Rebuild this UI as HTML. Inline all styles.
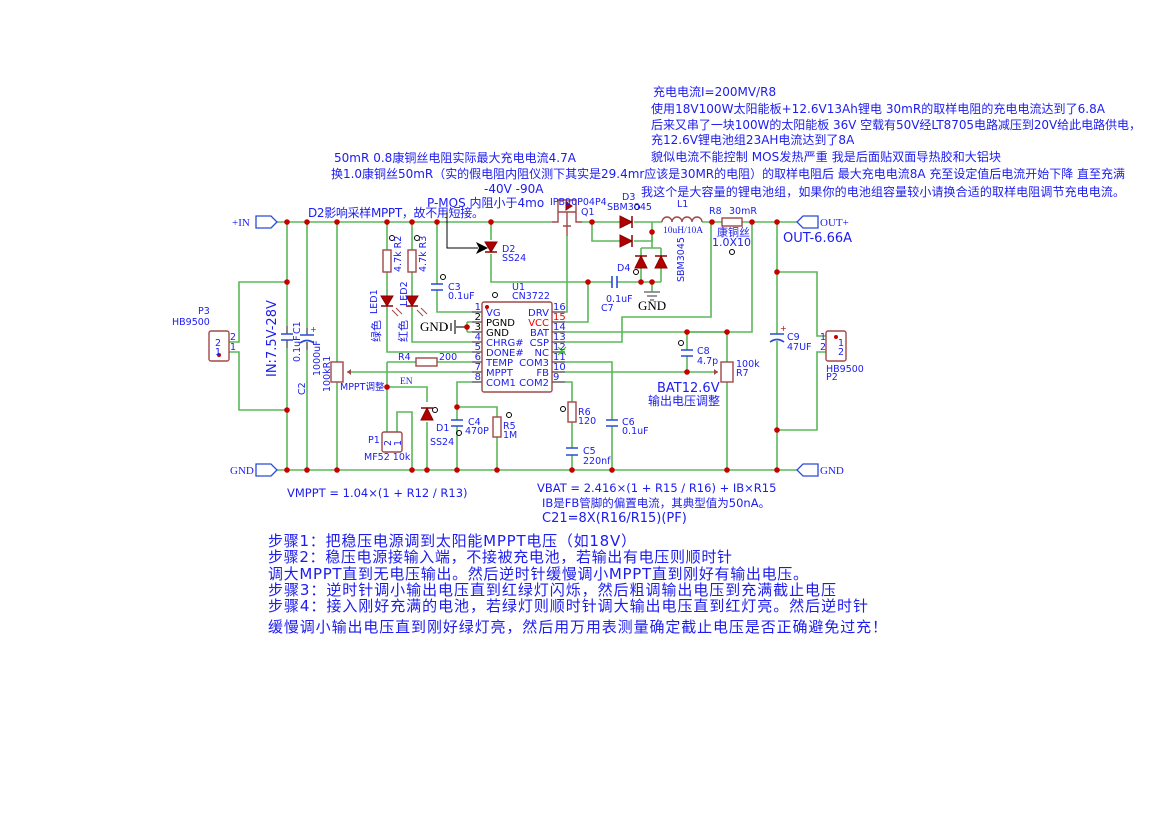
<!DOCTYPE html>
<html><head><meta charset="utf-8"><style>
html,body{margin:0;padding:0;background:#fff;}
svg{display:block;}
text{font-family:"DejaVu Sans","Liberation Sans","Noto Sans CJK SC",sans-serif;}
.t{fill:#1c1cf0;}
.s{fill:#1c1cf0;font-size:9.5px;}
.w{stroke:#5cb85c;stroke-width:1.6;fill:none;}
.c{stroke:#a04848;stroke-width:1.4;fill:none;}
.g{stroke:#888;stroke-width:3;fill:none;}
.cap{stroke:#2a4ad8;stroke-width:1.6;fill:none;}
.d{fill:#c80000;}
.dio{fill:#b00000;stroke:#8a0000;stroke-width:1;}
.p{stroke:#2a4ad8;stroke-width:1.3;fill:#fff;}
</style></head><body>
<svg width="1169" height="827" viewBox="0 0 1169 827" xmlns="http://www.w3.org/2000/svg">
<rect width="1169" height="827" fill="#fff"/>

<!-- texts top -->
<g class="t" font-size="12">
<text x="653" y="96">充电电流I=200MV/R8</text>
<text x="651" y="113" textLength="454">使用18V100W太阳能板+12.6V13Ah锂电 30mR的取样电阻的充电电流达到了6.8A</text>
<text x="651" y="129" textLength="490">后来又串了一块100W的太阳能板 36V 空载有50V经LT8705电路减压到20V给此电路供电，</text>
<text x="651" y="144">充12.6V锂电池组23AH电流达到了8A</text>
<text x="651" y="161" textLength="350">貌似电流不能控制 MOS发热严重 我是后面贴双面导热胶和大铝块</text>
<text x="334" y="162" textLength="242">50mR 0.8康铜丝电阻实际最大充电电流4.7A</text>
<text x="331" y="178" textLength="794">换1.0康铜丝50mR（实的假电阻内阻仪测下其实是29.4mr应该是30MR的电阻）的取样电阻后 最大充电电流8A 充至设定值后电流开始下降 直至充满</text>
<text x="484" y="193">-40V -90A</text>
<text x="641" y="196" textLength="484">我这个是大容量的锂电池组，如果你的电池组容量较小请换合适的取样电阻调节充电电流。</text>
<text x="427" y="207">P-MOS 内阻小于4mo</text>
<text x="308" y="217" textLength="176">D2影响采样MPPT，故不用短接。</text>
<text x="783" y="242" font-size="13">OUT-6.66A</text>
<text x="657" y="392" font-size="13">BAT12.6V</text>
<text x="648" y="405">输出电压调整</text>
<text transform="translate(276,377) rotate(-90)" font-size="13">IN:7.5V-28V</text>
<text x="287" y="497" font-size="11.5">VMPPT = 1.04×(1 + R12 / R13)</text>
<text x="537" y="492" font-size="11.5">VBAT = 2.416×(1 + R15 / R16) + IB×R15</text>
<text x="542" y="507" font-size="11.5">IB是FB管脚的偏置电流，其典型值为50nA。</text>
<text x="542" y="522" font-size="13">C21=8X(R16/R15)(PF)</text>
</g>
<g class="t" font-size="15">
<text x="268" y="546" textLength="368">步骤1：把稳压电源调到太阳能MPPT电压（如18V）</text>
<text x="268" y="562" textLength="464">步骤2：稳压电源接输入端，不接被充电池，若输出有电压则顺时针</text>
<text x="268" y="579" textLength="540">调大MPPT直到无电压输出。然后逆时针缓慢调小MPPT直到刚好有输出电压。</text>
<text x="268" y="595" textLength="568">步骤3：逆时针调小输出电压直到红绿灯闪烁，然后粗调输出电压到充满截止电压</text>
<text x="268" y="611" textLength="600">步骤4：接入刚好充满的电池，若绿灯则顺时针调大输出电压直到红灯亮。然后逆时针</text>
<text x="268" y="632" textLength="619">缓慢调小输出电压直到刚好绿灯亮，然后用万用表测量确定截止电压是否正确避免过充！</text>
</g>

<!-- wires -->
<g class="w">
<!-- rails -->
<path d="M277 222H552M582 222H592M652 222H662M702 222H722M742 222H797"/>
<path d="M277 470H797"/>
<!-- P3 -->
<path d="M229 342H239V282H287M229 352H239V410H287"/>
<path d="M287 222V334M287 340V470"/>
<path d="M307 222V335M307 342V470"/>
<path d="M337 222V362M337 382V470M347 372H480"/>
<!-- R2 LED1 -->
<path d="M387 222V250M387 272V296M387 307V352H480"/>
<path d="M412 222V250M412 272V296M412 307V342H480"/>
<path d="M437 222V284M437 290V312H480"/>
<path d="M467 322H480M467 332H480M467 322V332"/>
<!-- R4 -->
<path d="M387 362H416M437 362H480M387 362V432M387 387H427V402M427 422V470"/>
<path d="M397 432V412H412V470"/>
<path d="M480 382H457V420M457 426V470M457 407H497V417M497 437V470"/>
<!-- D2 -->
<path d="M491 222V240M491 254V282H612M617 282H661"/>
<!-- right pins -->
<path d="M552 312H567V236"/>
<path d="M552 322H588V282"/>
<path d="M552 332H752V222"/>
<path d="M552 342H622V317H711V222"/>
<path d="M552 362H612V420M612 426V470"/>
<path d="M552 372H718"/>
<path d="M552 382H572V402M572 422V448M572 455V470"/>
<path d="M687 332H727V362M727 382V470M687 332V350M687 356V372"/>
<!-- D3 / D4 -->
<path d="M592 222H620M634 222H652M592 222V241H620M634 241H652V222"/>
<path d="M652 232V248M641 248H661M641 248V256M661 248V256M641 268V282M661 268V282"/>
<path d="M652 282V292"/>
<!-- right side -->
<path d="M777 222V334M777 341V470"/>
<path d="M777 272H817V336H826M826 352H817V430H777"/>
</g>

<!-- grey stubs -->
<g stroke="#888" stroke-width="2">
<path d="M472 312H482M472 322H482M472 332H482M472 342H482M472 352H482M472 362H482M472 372H482M472 382H482"/>
<path d="M552 312H565M552 322H565M552 332H565M552 342H565M552 352H565M552 362H565M552 372H565M552 382H565"/>
<path d="M287 326V334M287 340V348M307 328V335M307 342V350"/>
</g>

<!-- ports -->
<g class="p">
<path d="M256 216H271L277 222L271 228H256Z"/>
<path d="M256 464H271L277 470L271 476H256Z"/>
<path d="M818 216H803L797 222L803 228H818Z"/>
<path d="M818 464H803L797 470L803 476H818Z"/>
</g>
<g fill="#1c1cf0" font-family="Liberation Serif,serif" font-size="11">
<text x="232" y="226" style="font-family:'Liberation Serif',serif">+IN</text>
<text x="230" y="474" style="font-family:'Liberation Serif',serif">GND</text>
<text x="820" y="226" style="font-family:'Liberation Serif',serif">OUT+</text>
<text x="820" y="474" style="font-family:'Liberation Serif',serif">GND</text>
</g>

<!-- connectors -->
<g class="c">
<rect x="209" y="331" width="20" height="30" rx="2"/>
<rect x="826" y="331" width="20" height="30" rx="2"/>
<rect x="382" y="432" width="20" height="20" rx="2"/>
<!-- resistors -->
<rect x="383" y="250" width="8" height="22"/>
<rect x="408" y="250" width="8" height="22"/>
<rect x="416" y="358" width="21" height="8"/>
<rect x="331" y="362" width="12" height="20"/>
<rect x="493" y="417" width="8" height="20"/>
<rect x="568" y="402" width="8" height="20"/>
<rect x="722" y="218" width="20" height="8"/>
<rect x="721" y="362" width="12" height="20"/>
<!-- IC -->
<rect x="482" y="302" width="70" height="90" rx="2"/>
<!-- inductor -->
<path d="M662 222a5 5 0 0 1 10 0a5 5 0 0 1 10 0a5 5 0 0 1 10 0a5 5 0 0 1 10 0"/>
<!-- Q1 -->
<path d="M552 222H558V212H576V222H582M558 212V200H576V212M567 212V236M563 226H571"/>
</g>
<path d="M347 372l4-3v6z" fill="#a04848"/>
<path d="M718 372l-4-3v6z" fill="#a04848"/>

<!-- caps -->
<g class="cap">
<path d="M281 334H293M281 340H293"/>
<path d="M300 335H314M300 343Q307 338 314 343"/>
<path d="M431 284H443M431 290H443"/>
<path d="M451 420H463M451 426H463"/>
<path d="M566 448H578M566 455H578"/>
<path d="M606 420H618M606 426H618"/>
<path d="M612 276V288M617 276V288"/>
<path d="M681 350H693M681 356H693"/>
<path d="M770 334H784M770 342Q777 337 784 342"/>
</g>
<g fill="#c00" font-size="8"><text x="310" y="332">+</text><text x="780" y="331">+</text></g>

<!-- diodes -->
<g class="dio">
<path d="M381 296H393L387 306Z"/><path d="M406 296H418L412 306Z"/>
<path d="M485 242H497L491 252Z"/>
<path d="M421 420H433L427 408Z"/>
<path d="M620 216V228L632 222Z"/><path d="M620 235V247L632 241Z"/>
<path d="M635 268H647L641 256Z"/><path d="M655 268H667L661 256Z"/>
<path d="M572 206l-6-4v8z"/>
</g>
<g stroke="#8a0000" stroke-width="1.5">
<path d="M381 306H393M406 306H418M485 252H497M421 408H433M632 216V228M632 235V247M635 256H647M655 256H667"/>
</g>
<!-- LED arrows -->
<g stroke="#a04848" stroke-width="1"><path d="M392 310l6 6M396 308l6 6M417 310l6 6M421 308l6 6"/></g>

<!-- GND symbols -->
<path d="M467 327H455M455 320V334M451 323V331M447 325V329" stroke="#777" stroke-width="2" fill="none"/>
<path d="M644 292H660M647 296H657M650 300H654" stroke="#777" stroke-width="1.5"/>
<text x="420" y="331" font-size="13" style="font-family:'Liberation Serif',serif" fill="#000">GND</text>
<text x="638" y="310" font-size="13" style="font-family:'Liberation Serif',serif" fill="#000">GND</text>

<!-- black arrow -->
<path d="M447 212V248H478" stroke="#000" stroke-width="1" fill="none"/>
<path d="M488 248l-12-6 3 6-3 6z" fill="#000"/>

<!-- junctions -->
<g class="d">
<circle cx="287" cy="222" r="2.8"/><circle cx="307" cy="222" r="2.8"/><circle cx="337" cy="222" r="2.8"/><circle cx="387" cy="222" r="2.8"/><circle cx="412" cy="222" r="2.8"/><circle cx="437" cy="222" r="2.8"/><circle cx="491" cy="222" r="2.8"/><circle cx="592" cy="222" r="2.8"/><circle cx="712" cy="222" r="2.8"/><circle cx="752" cy="222" r="2.8"/><circle cx="777" cy="222" r="2.8"/>
<circle cx="287" cy="470" r="2.8"/><circle cx="307" cy="470" r="2.8"/><circle cx="337" cy="470" r="2.8"/><circle cx="412" cy="470" r="2.8"/><circle cx="427" cy="470" r="2.8"/><circle cx="457" cy="470" r="2.8"/><circle cx="497" cy="470" r="2.8"/><circle cx="572" cy="470" r="2.8"/><circle cx="612" cy="470" r="2.8"/><circle cx="727" cy="470" r="2.8"/><circle cx="777" cy="470" r="2.8"/>
<circle cx="287" cy="282" r="2.8"/><circle cx="287" cy="410" r="2.8"/><circle cx="467" cy="327" r="2.8"/><circle cx="387" cy="387" r="2.8"/><circle cx="457" cy="407" r="2.8"/>
<circle cx="588" cy="282" r="2.8"/><circle cx="641" cy="282" r="2.8"/><circle cx="652" cy="282" r="2.8"/><circle cx="652" cy="232" r="2.8"/>
<circle cx="687" cy="332" r="2.8"/><circle cx="727" cy="332" r="2.8"/><circle cx="687" cy="372" r="2.8"/>
<circle cx="777" cy="272" r="2.8"/><circle cx="777" cy="430" r="2.8"/>
<circle cx="219" cy="355" r="2"/><circle cx="836" cy="337" r="2"/><circle cx="487" cy="307" r="2"/>
</g>
<path d="M558 347l8 8M566 347l-8 8" stroke="#2c2" stroke-width="1"/>

<!-- small circles -->
<g fill="none" stroke="#000" stroke-width="1">
<circle cx="392" cy="238" r="2.5"/><circle cx="417" cy="238" r="2.5"/><circle cx="443" cy="277" r="2.5"/><circle cx="495" cy="295" r="2.5"/><circle cx="435" cy="410" r="2.5"/><circle cx="459" cy="433" r="2.5"/><circle cx="509" cy="415" r="2.5"/><circle cx="563" cy="409" r="2.5"/><circle cx="637" cy="207" r="2.5"/><circle cx="732" cy="252" r="2.5"/><circle cx="636" cy="272" r="2.5"/><circle cx="681" cy="343" r="2.5"/>
</g>

<!-- IC pin labels -->
<g font-size="10" fill="#1c1cf0">
<text x="486" y="316">VG</text><text x="486" y="326" fill="#000">PGND</text><text x="486" y="336" fill="#000">GND</text><text x="486" y="346">CHRG#</text><text x="486" y="356">DONE#</text><text x="486" y="366">TEMP</text><text x="486" y="376">MPPT</text><text x="486" y="386">COM1</text>
<g text-anchor="end"><text x="549" y="316">DRV</text><text x="549" y="326" fill="#e00">VCC</text><text x="549" y="336">BAT</text><text x="549" y="346">CSP</text><text x="549" y="356">NC</text><text x="549" y="366">COM3</text><text x="549" y="376">FB</text><text x="549" y="386">COM2</text></g>
<g text-anchor="end"><text x="481" y="310">1</text><text x="481" y="320" fill="#000">2</text><text x="481" y="330" fill="#000">3</text><text x="481" y="340">4</text><text x="481" y="350">5</text><text x="481" y="360">6</text><text x="481" y="370">7</text><text x="481" y="380">8</text></g>
<text x="553" y="310">16</text><text x="553" y="320" fill="#e00">15</text><text x="553" y="330">14</text><text x="553" y="340">13</text><text x="553" y="350">12</text><text x="553" y="360">11</text><text x="553" y="370">10</text><text x="553" y="380">9</text>
</g>

<!-- component labels -->
<g class="s">
<text x="512" y="290">U1</text><text x="512" y="299">CN3722</text>
<text x="198" y="314">P3</text><text x="172" y="325">HB9500</text>
<text x="215" y="346">2</text><text x="215" y="355">1</text><text x="230" y="340">2</text><text x="230" y="350">1</text>
<text x="838" y="346">1</text><text x="838" y="355">2</text><text x="820" y="340">1</text><text x="820" y="350">2</text>
<text x="826" y="372">HB9500</text><text x="826" y="380">P2</text>
<text transform="translate(300,334) rotate(-90)">C1</text>
<text transform="translate(300,362) rotate(-90)">0.1uF</text>
<text transform="translate(305,395) rotate(-90)">C2</text>
<text transform="translate(320,376) rotate(-90)">1000uF</text>
<text transform="translate(330,392) rotate(-90)">100kR1</text>
<text x="340" y="390">MPPT调整</text>
<text x="400" y="384" style="font-family:'Liberation Serif',serif">EN</text>
<text transform="translate(401,272) rotate(-90)">4.7k R2</text>
<text transform="translate(426,272) rotate(-90)">4.7k R3</text>
<text transform="translate(377,314) rotate(-90)">LED1</text>
<text transform="translate(407,306) rotate(-90)">LED2</text>
<text transform="translate(380,342) rotate(-90)" font-size="11">绿色</text>
<text transform="translate(407,342) rotate(-90)" font-size="11">红色</text>
<text x="448" y="290">C3</text><text x="448" y="299">0.1uF</text>
<text x="398" y="360">R4</text><text x="439" y="360">200</text>
<text x="502" y="252">D2</text><text x="502" y="261">SS24</text>
<text x="436" y="431">D1</text><text x="430" y="445">SS24</text>
<text x="368" y="443">P1</text><text x="364" y="460">MF52 10k</text>
<text transform="translate(391,446) rotate(-90)">2</text><text transform="translate(401,446) rotate(-90)">1</text>
<text x="468" y="425">C4</text><text x="465" y="434">470P</text>
<text x="503" y="429">R5</text><text x="503" y="438">1M</text>
<text x="578" y="415">R6</text><text x="578" y="424">120</text>
<text x="583" y="454">C5</text><text x="583" y="464">220nf</text>
<text x="622" y="425">C6</text><text x="622" y="434">0.1uF</text>
<text x="550" y="205">IPB90P04P4</text><text x="581" y="215">Q1</text>
<text x="622" y="200">D3</text><text x="607" y="210">SBM3045</text>
<text x="677" y="207">L1</text><text x="663" y="233" style="font-family:'Liberation Serif',serif">10uH/10A</text>
<text x="709" y="214">R8</text><text x="729" y="214">30mR</text>
<text x="717" y="236" font-size="11">康铜丝</text><text x="712" y="246" font-size="11">1.0X10</text>
<text x="617" y="271">D4</text>
<text transform="translate(684,282) rotate(-90)">SBM3045</text>
<text x="606" y="302">0.1uF</text><text x="601" y="311">C7</text>
<text x="697" y="354">C8</text><text x="697" y="364">4.7p</text>
<text x="736" y="367">100k</text><text x="736" y="376">R7</text>
<text x="787" y="340">C9</text><text x="787" y="350">47UF</text>
</g>
</svg>
</body></html>
